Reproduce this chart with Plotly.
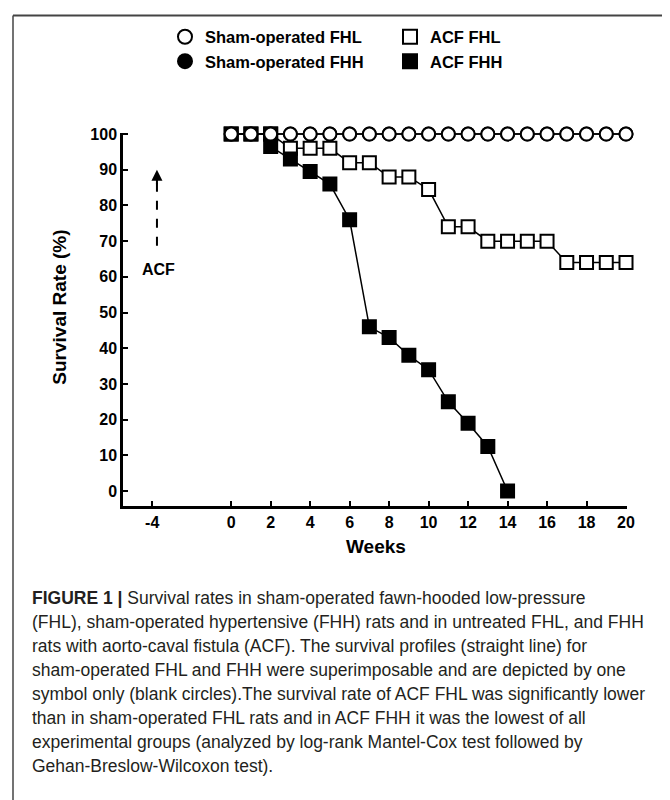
import plotly.graph_objects as go

# ---------------- data ----------------
weeks = [0, 1, 2, 3, 4, 5, 6, 7, 8, 9, 10, 11, 12, 13, 14, 15, 16, 17, 18, 19, 20]
sham_fhl = [100, 100, 100, 100, 100, 100, 100, 100, 100, 100, 100,
            100, 100, 100, 100, 100, 100, 100, 100, 100, 100]
sham_fhh = [100, 100, 100, 100, 100, 100, 100, 100, 100, 100, 100,
            100, 100, 100, 100, 100, 100, 100, 100, 100, 100]
acf_fhl = [100, 100, 100, 96, 96, 96, 92, 92, 88, 88, 84.5,
           74, 74, 70, 70, 70, 70, 64, 64, 64, 64]
acf_fhh_weeks = [0, 1, 2, 2, 3, 4, 5, 6, 7, 8, 9, 10, 11, 12, 13, 14]
acf_fhh = [100, 100, 100, 96.5, 93, 89.5, 86, 76, 46, 43, 38, 34, 25, 19, 12.5, 0]

x_tickvals = [-4, 0, 2, 4, 6, 8, 10, 12, 14, 16, 18, 20]
y_tickvals = [0, 10, 20, 30, 40, 50, 60, 70, 80, 90, 100]

names = ["Sham-operated FHL", "ACF FHL", "Sham-operated FHH", "ACF FHH"]

caption_lines = [
    "<b>FIGURE 1 |</b> Survival rates in sham-operated fawn-hooded low-pressure",
    "(FHL), sham-operated hypertensive (FHH) rats and in untreated FHL, and FHH",
    "rats with aorto-caval fistula (ACF). The survival profiles (straight line) for",
    "sham-operated FHL and FHH were superimposable and are depicted by one",
    "symbol only (blank circles).The survival rate of ACF FHL was significantly lower",
    "than in sham-operated FHL rats and in ACF FHH it was the lowest of all",
    "experimental groups (analyzed by log-rank Mantel-Cox test followed by",
    "Gehan-Breslow-Wilcoxon test).",
]

# ---------------- layout geometry ----------------
# page offset caused by the default body margin of the html page
OFF = 8
W, H = 670, 800
L, T = 123 - OFF, 128 - OFF          # plot area left / top (figure px)
RIGHT, BOTTOM = 627 - OFF, 506 - OFF
R, B = W - RIGHT, H - BOTTOM
PW, PH = RIGHT - L, BOTTOM - T


def px(xpage):
    return (xpage - OFF - L) / PW


def py(ypage):
    return (BOTTOM - (ypage - OFF)) / PH


BOLD = "Liberation Sans, Arial, sans-serif"
MS = 13
line_style = dict(color="black", width=1.5)

fig = go.Figure()

# data traces
fig.add_trace(go.Scatter(
    x=weeks, y=acf_fhl, mode="lines+markers", line=line_style, showlegend=False,
    marker=dict(symbol="square", size=MS, color="white", line=dict(color="black", width=2)),
    cliponaxis=False, name=names[1]))
fig.add_trace(go.Scatter(
    x=weeks, y=sham_fhh, mode="lines+markers", line=line_style, showlegend=False,
    marker=dict(symbol="circle", size=MS, color="black", line=dict(color="black", width=2)),
    cliponaxis=False, name=names[2]))
fig.add_trace(go.Scatter(
    x=acf_fhh_weeks, y=acf_fhh, mode="lines+markers", line=line_style, showlegend=False,
    marker=dict(symbol="square", size=MS, color="black", line=dict(color="black", width=2)),
    cliponaxis=False, name=names[3]))
fig.add_trace(go.Scatter(
    x=weeks, y=sham_fhl, mode="lines+markers", line=line_style, showlegend=False,
    marker=dict(symbol="circle", size=MS, color="white", line=dict(color="black", width=2)),
    cliponaxis=False, name=names[0]))

# legend-only entries (symbols only)
leg_markers = [
    dict(symbol="circle", color="white"),
    dict(symbol="square", color="white"),
    dict(symbol="circle", color="black"),
    dict(symbol="square", color="black"),
]
for nm, mk in zip(names, leg_markers):
    fig.add_trace(go.Scatter(
        x=[None], y=[None], mode="markers", name=nm,
        marker=dict(symbol=mk["symbol"], size=14, color=mk["color"],
                    line=dict(color="black", width=2))))

axis_common = dict(
    showgrid=False, zeroline=False, showline=True, linecolor="black", linewidth=2.5,
    ticks="inside", ticklen=5, tickwidth=2, tickcolor="black",
    tickfont=dict(family=BOLD, size=16, color="black", weight="bold"),
)

fig.update_layout(
    width=W, height=H,
    margin=dict(l=L, r=R, t=T, b=B),
    paper_bgcolor="white", plot_bgcolor="white",
    xaxis=dict(range=[-5.48, 20.05], tickvals=x_tickvals, ticktext=[str(v) for v in x_tickvals],
               **axis_common),
    yaxis=dict(range=[-4.2, 100.3], tickvals=y_tickvals, ticktext=[str(v) for v in y_tickvals],
               **axis_common),
    legend=dict(orientation="h", x=px(165), y=py(13), xanchor="left", yanchor="top",
                entrywidth=180, entrywidthmode="pixels", traceorder="normal",
                font=dict(family=BOLD, size=16.5, color="black", weight="bold"),
                bgcolor="rgba(0,0,0,0)"),
    showlegend=True,
)

annotations = []
# axis titles
annotations.append(dict(text="<b>Survival Rate (%)</b>", x=px(60), y=py(305), xref="paper", yref="paper",
                        xanchor="center", yanchor="middle",
                        textangle=-90, showarrow=False, font=dict(family=BOLD, size=19, color="black")))
annotations.append(dict(text="<b>Weeks</b>", x=px(376), y=py(547), xref="paper", yref="paper",
                        xanchor="center", yanchor="middle",
                        showarrow=False, font=dict(family=BOLD, size=19, color="black")))
# ACF label + arrowhead
annotations.append(dict(text="<b>ACF</b>", x=-3.66, y=62, xref="x", yref="y", showarrow=False,
                        xanchor="center", yanchor="middle",
                        font=dict(family=BOLD, size=16, color="black")))
annotations.append(dict(text="", x=-3.76, y=90, ax=-3.76, ay=85.5, xref="x", yref="y",
                        axref="x", ayref="y", showarrow=True, arrowhead=2, arrowsize=1.1,
                        arrowwidth=2, arrowcolor="black"))
# caption
for i, ln in enumerate(caption_lines):
    annotations.append(dict(text=ln, x=px(30), y=py(599 + i * 24.4), xref="paper", yref="paper",
                            xanchor="left", yanchor="middle", showarrow=False, align="left",
                            font=dict(family="Liberation Sans, Arial, sans-serif", size=17.5,
                                      color="#231f20")))
fig.update_layout(annotations=annotations)

# dashed arrow shaft and figure frame
fig.add_shape(type="line", x0=-3.76, x1=-3.76, y0=68.7, y1=86.5, xref="x", yref="y",
              line=dict(color="black", width=2, dash="dash"))
fig.add_shape(type="line", x0=px(13), x1=px(680), y0=py(9), y1=py(9), xref="paper", yref="paper",
              line=dict(color="#444", width=2))
fig.add_shape(type="line", x0=px(13), x1=px(13), y0=py(9), y1=py(820), xref="paper", yref="paper",
              line=dict(color="#444", width=1.5))

fig.write_html("out.html")
